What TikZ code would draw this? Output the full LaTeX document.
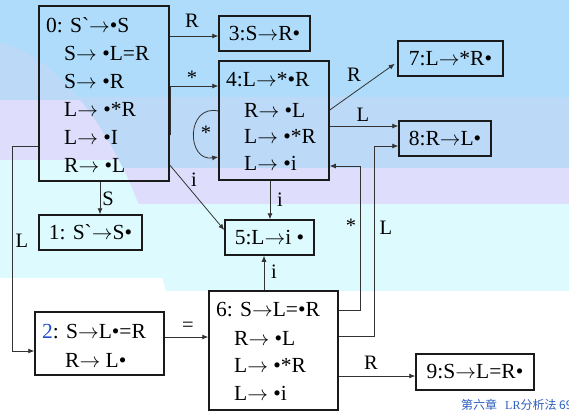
\documentclass[tikz,border=0pt]{standalone}
\usepackage{fontspec}
\newfontfamily\dfont{Liberation Serif}
\newfontfamily\cjkfont{Noto Sans CJK SC}
\usetikzlibrary{arrows.meta}
\newcommand{\myarr}{\ensuremath{\rightarrow}}
\definecolor{cbright}{HTML}{AEDCFA}
\definecolor{cmed}{HTML}{BCDAF8}
\definecolor{clav}{HTML}{DEDEFC}
\definecolor{ccyan}{HTML}{DDFBFE}
\definecolor{numblue}{HTML}{1F4FD0}
\definecolor{footblue}{HTML}{2E5FC0}
\definecolor{edge}{HTML}{1A1A1A}
\definecolor{conn}{HTML}{333333}
\begin{document}
\begin{tikzpicture}[x=1pt,y=-1pt,
  box/.style={draw=edge,line width=1.5pt,inner sep=0pt,font=\dfont\fontsize{21.5}{24}\selectfont},
  txt/.style={anchor=west,inner sep=0pt,font=\dfont\fontsize{21.5}{24}\selectfont},
  lbl/.style={inner sep=0pt,font=\dfont\fontsize{20.5}{22}\selectfont},
  arr/.style={draw=conn,line width=0.8pt,-{Latex[length=6pt,width=5pt]}}]
\useasboundingbox (0,0) rectangle (569,416);
% background
\fill[white] (0,0) rectangle (569,416);
\fill[cbright] (0,0) rectangle (569,97);
\fill[cmed] (0,97) rectangle (569,168);
\fill[clav] (0,168) rectangle (569,204);
\fill[ccyan] (0,204) rectangle (569,291);
\begin{scope}
\clip (0,43) .. controls (60,55) and (112,135) .. (138,203) .. controls (150,240) and (160,265) .. (168,300) -- (168,416) -- (0,416) -- cycle;
\fill[cmed] (0,0) rectangle (569,100);
\fill[clav] (0,100) rectangle (569,160);
\fill[ccyan] (0,160) rectangle (569,278);
\fill[white] (0,278) rectangle (569,416);
\end{scope}
% boxes
\node[box,minimum width=130pt,minimum height=175pt] (b0) at (104,93.5) {};
\node[box,minimum width=110pt,minimum height=119pt] (b4) at (274,120.5) {};
\node[box,minimum width=129pt,minimum height=63pt] (b2) at (99.5,343.5) {};
\node[box,minimum width=129pt,minimum height=119pt] (b6) at (273.5,350.5) {};
\node[box,minimum width=91pt,minimum height=35pt] (b3) at (264.5,33.5) {3:S\myarr R•};
\node[box,minimum width=103pt,minimum height=35pt] (b1) at (90.5,232.5) {1: S`\myarr S•};
\node[box,minimum width=89pt,minimum height=35pt] (b5) at (269.5,237.5) {5:L\myarr i •};
\node[box,minimum width=105pt,minimum height=35pt] (b7) at (450.5,58.5) {7:L\myarr *R•};
\node[box,minimum width=92pt,minimum height=35pt] (b8) at (445,138.5) {8:R\myarr L•};
\node[box,minimum width=118pt,minimum height=36pt] (b9) at (475,372) {9:S\myarr L=R•};
% box texts
\node[txt] (t0a) at (46,25) {0: S`\myarr•S};
\node[txt] (t0b) at (64,53) {S\myarr\ •L=R};
\node[txt] (t0c) at (64,81) {S\myarr\ •R};
\node[txt] (t0d) at (64,109) {L\myarr\ •*R};
\node[txt] (t0e) at (64,137) {L\myarr\ •I};
\node[txt] (t0f) at (64,165) {R\myarr\ •L};
\node[txt] (t4a) at (226,80) {4:L\myarr *•R};
\node[txt] (t4b) at (244,110) {R\myarr\ •L};
\node[txt] (t4c) at (244,136) {L\myarr\ •*R};
\node[txt] (t4d) at (244,163) {L\myarr\ •i};
\node[txt] (t6a) at (216,310) {6: S\myarr L=•R};
\node[txt] (t6b) at (234,338) {R\myarr\ •L};
\node[txt] (t6c) at (234,365) {L\myarr\ •*R};
\node[txt] (t6d) at (234,393) {L\myarr\ •i};
\node[txt] (t2a) at (42,332) {{\color{numblue}2}: S\myarr L•=R};
\node[txt] (t2b) at (65,360) {R\myarr\ L•};
% connectors
\draw[arr] (b0.east |- 0,36) -- (b3.west |- 0,36);
\node[lbl] (lR03) at (192,21) {R};
\draw[arr] ([xshift=1pt]b0.east |- 0,135) -- ([xshift=1pt]b0.east |- 0,86) -- (b4.west |- 0,86);
\node[lbl] (lS04) at (192,78) {*};
\draw[arr] (b4.west |- 0,111) .. controls (186,104) and (186,162) .. (b4.west |- 0,157);
\node[lbl] (lS44) at (206,133) {*};
\draw[arr,shorten >=3pt] (b4.east |- 0,110) -- (b7.west |- 0,62);
\node[lbl] (lR47) at (354,75) {R};
\draw[arr] (b4.east |- 0,126) -- (b8.west |- 0,126);
\node[lbl] (lL48) at (363,115) {L};
\draw[arr] (b0.east |- 0,165) -- (b5.west |- 0,230);
\node[lbl] (li05) at (194,180) {i};
\draw[arr] (b4.south -| 270,0) -- (b5.north -| 270,0);
\node[lbl] (li45) at (280,200) {i};
\draw[arr] (b6.north -| 264,0) -- (b5.south -| 264,0);
\node[lbl] (li65) at (274,272) {i};
\draw[arr] (b6.east |- 0,310) -| (360,166) -- (b4.east |- 0,166);
\node[lbl] (lS64) at (351,226) {*};
\draw[arr] (b6.east |- 0,336) -| (374,146) -- (b8.west |- 0,146);
\node[lbl] (lL68) at (386,228) {L};
\draw[arr] (b0.west |- 0,146) -| (12,351) -- (b2.west |- 0,351);
\node[lbl] (lL02) at (22,241) {L};
\draw[arr] (b0.south -| 100,0) -- (b1.north -| 100,0);
\node[lbl] (lS01) at (108,199) {S};
\draw[arr] (b2.east |- 0,337) -- (b6.west |- 0,337);
\node[lbl] (lE26) at (188,327) {=};
\draw[arr] (b6.east |- 0,376) -- (b9.west |- 0,376);
\node[lbl] (lR69) at (371,363) {R};
% footer
\node[anchor=west,inner sep=0pt,text=footblue,font=\cjkfont\fontsize{12}{14}\selectfont] (foot) at (461,405) {第六章\hspace{8pt}{\dfont LR}分析法 69};
\end{tikzpicture}
\end{document}
